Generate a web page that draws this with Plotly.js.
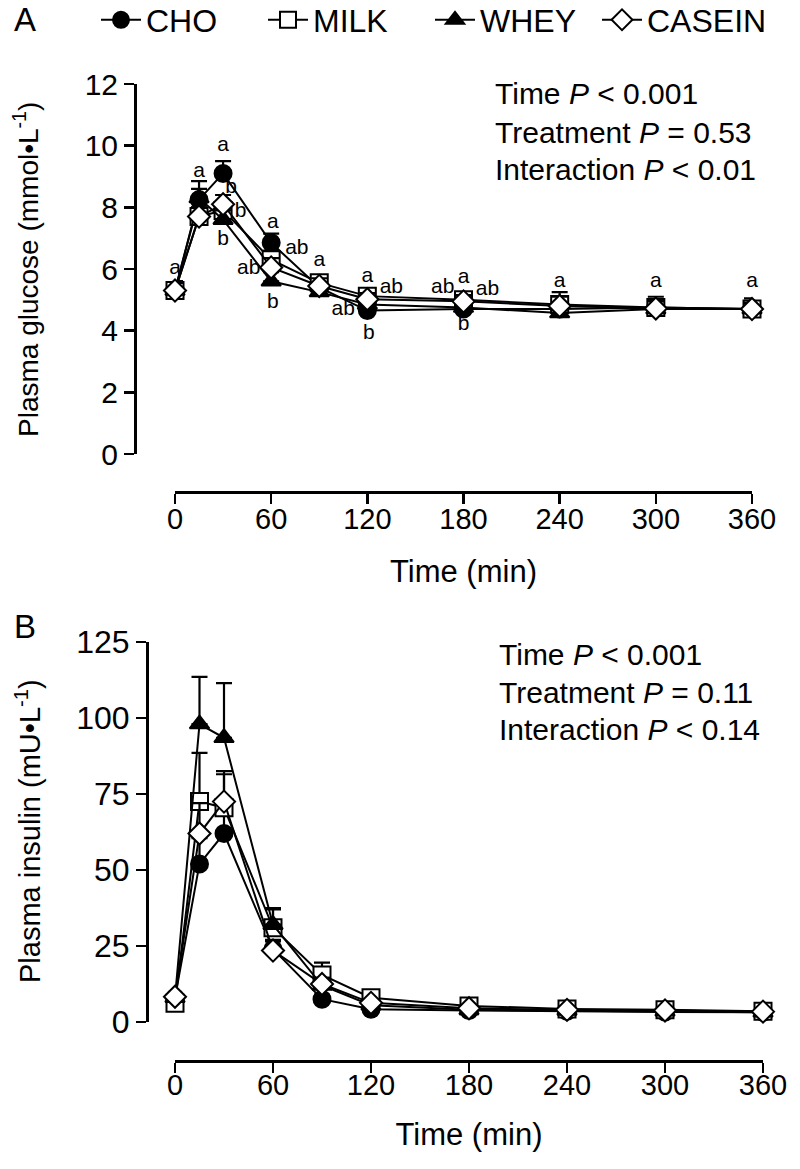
<!DOCTYPE html>
<html>
<head>
<meta charset="utf-8">
<script src="https://cdn.plot.ly/plotly-3.0.1.min.js"></script>
<style>html,body{margin:0;padding:0;background:#fff;}#chart{width:800px;height:1169px;}</style>
</head>
<body>
<div id="chart"></div>
<script>
// ---- data ----
const times = [0, 15, 30, 60, 90, 120, 180, 240, 300, 360];
const seriesNames = ["CHO", "MILK", "WHEY", "CASEIN"];

// Plasma glucose (mmol/L)
const gluCHO    = [5.3, 8.25, 9.1, 6.85, 5.4, 4.65, 4.7, 4.7, 4.75, 4.7];
const gluMILK   = [5.3, 7.7, 7.9, 6.3, 5.55, 5.12, 5.0, 4.85, 4.75, 4.7];
const gluWHEY   = [5.3, 8.3, 7.6, 5.6, 5.25, 4.85, 4.75, 4.57, 4.7, 4.7];
const gluCASEIN = [5.3, 7.7, 8.1, 6.05, 5.45, 5.02, 4.95, 4.8, 4.72, 4.7];
const gluCHOErr    = [0.3, 0.35, 0.4, 0.3, 0.25, 0.2, 0.2, 0.2, 0.2, 0.2];
const gluMILKErr   = [0.3, 0.3, 0.3, 0.3, 0.25, 0.25, 0.2, 0.4, 0.35, 0.35];
const gluWHEYErr   = [0.3, 0.55, 0.3, 0.3, 0.25, 0.2, 0.2, 0.3, 0.25, 0.2];
const gluCASEINErr = [0.25, 0.3, 0.3, 0.3, 0.25, 0.2, 0.2, 0.3, 0.25, 0.2];

// Plasma insulin (mU/L)
const insCHO    = [8, 52, 62, 24, 7.5, 4.2, 3.8, 3.5, 3.3, 3.2];
const insMILK   = [6.2, 72.5, 70.5, 31, 15.5, 8, 5.3, 4.3, 4, 3.5];
const insWHEY   = [8, 98, 93.5, 32, 12, 5.5, 4, 3.8, 3.5, 3.2];
const insCASEIN = [8.3, 62, 72.5, 23.5, 12.5, 6.3, 4.5, 4, 3.8, 3.4];
const insCHOErr    = [1, 8.5, 6, 3, 1.5, 0.8, 0.6, 0.5, 0.5, 0.5];
const insMILKErr   = [1, 16, 11, 6, 4, 1.5, 1, 0.8, 0.8, 0.7];
const insWHEYErr   = [1, 15.5, 18, 5.5, 2.5, 1, 0.8, 0.7, 0.7, 0.6];
const insCASEINErr = [1, 10, 10, 3, 2, 1, 0.8, 0.7, 0.6, 0.6];

// significance letters, panel A
const sigX = [0, 15, 30, 35, 41, 30, 61, 76, 46, 61, 90, 120, 105, 121, 135, 167, 180, 195, 180, 240, 300, 360];
const sigY = [6.0, 9.15, 10.0, 8.65, 7.85, 6.95, 7.5, 6.65, 6.0, 4.9, 6.26, 5.75, 4.67, 3.9, 5.4, 5.4, 5.72, 5.32, 4.2, 5.6, 5.6, 5.6];
const sigT = ["a", "a", "a", "b", "b", "b", "a", "ab", "ab", "b", "a", "a", "ab", "b", "ab", "ab", "a", "ab", "b", "a", "a", "a"];

const xTicks = [0, 60, 120, 180, 240, 300, 360];
const gluTicks = [0, 2, 4, 6, 8, 10, 12];
const insTicks = [0, 25, 50, 75, 100, 125];

// ---- styles ----
const W = 800, H = 1169;
const FONT = "Liberation Sans, Arial, Helvetica, sans-serif";
const markerStyles = [
  {symbol: "circle", color: "black", line: {color: "black", width: 2}},
  {symbol: "square", color: "white", line: {color: "black", width: 2}},
  {symbol: "triangle-up", color: "black", line: {color: "black", width: 2}},
  {symbol: "diamond", color: "white", line: {color: "black", width: 2}}
];
const px = v => v / W;
const py = v => (H - v) / H;

function mk(y, err, i, xa, ya, showLeg) {
  return {
    type: "scatter", mode: "lines+markers",
    x: times, y: y, name: seriesNames[i], legendgroup: seriesNames[i],
    showlegend: showLeg, xaxis: xa, yaxis: ya, cliponaxis: false,
    line: {color: "black", width: 2},
    marker: Object.assign({size: 17}, markerStyles[i]),
    error_y: {type: "data", array: err, arrayminus: err.map(() => 0), symmetric: false,
              color: "black", thickness: 2.2, width: 8}
  };
}

const glu = [gluCHO, gluMILK, gluWHEY, gluCASEIN];
const gluE = [gluCHOErr, gluMILKErr, gluWHEYErr, gluCASEINErr];
const ins = [insCHO, insMILK, insWHEY, insCASEIN];
const insE = [insCHOErr, insMILKErr, insWHEYErr, insCASEINErr];

const traces = [];
for (let i = 0; i < 4; i++) traces.push(mk(glu[i], gluE[i], i, "x", "y", true));
for (let i = 0; i < 4; i++) traces.push(mk(ins[i], insE[i], i, "x2", "y2", false));
traces.push({
  type: "scatter", mode: "text", x: sigX, y: sigY, text: sigT,
  textfont: {family: FONT, size: 21, color: "black"}, showlegend: false,
  xaxis: "x", yaxis: "y", cliponaxis: false, hoverinfo: "skip"
});

const axCommon = {
  showline: true, linecolor: "black", linewidth: 2.5,
  ticks: "outside", ticklen: 10, tickwidth: 2.5, tickcolor: "black",
  showgrid: false, zeroline: false, fixedrange: true, automargin: false
};

function ann(text, x, y, size, extra) {
  return Object.assign({text: text, x: px(x), y: py(y), xref: "paper", yref: "paper",
    xanchor: "center", yanchor: "middle", showarrow: false, font: {family: FONT, size: size}}, extra || {});
}

const layout = {
  width: W, height: H,
  margin: {l: 0, r: 0, t: 0, b: 0, autoexpand: false},
  paper_bgcolor: "white", plot_bgcolor: "rgba(0,0,0,0)",
  font: {family: FONT, color: "black", size: 30},
  showlegend: true,
  legend: {orientation: "h", xref: "container", yref: "container", x: px(96), y: py(20),
           xanchor: "left", yanchor: "middle",
           font: {family: FONT, size: 32}, itemwidth: 40, entrywidth: 112, entrywidthmode: "pixels",
           traceorder: "normal", bgcolor: "rgba(0,0,0,0)"},
  xaxis: Object.assign({}, axCommon, {
    domain: [px(175), px(752)], range: [0, 360], anchor: "free", position: py(492),
    tickvals: xTicks, tickfont: {family: FONT, size: 29}, ticklabelstandoff: -9,
    title: {text: "Time (min)", font: {family: FONT, size: 31}, standoff: 25}
  }),
  yaxis: Object.assign({}, axCommon, {
    domain: [py(454), py(84)], range: [0, 12], anchor: "free", position: px(135),
    tickvals: gluTicks, tickfont: {family: FONT, size: 30}
  }),
  xaxis2: Object.assign({}, axCommon, {
    domain: [px(175), px(763)], range: [0, 360], anchor: "free", position: py(1061),
    tickvals: xTicks, tickfont: {family: FONT, size: 29}, ticklabelstandoff: -12,
    title: {text: "Time (min)", font: {family: FONT, size: 31}, standoff: 22}
  }),
  yaxis2: Object.assign({}, axCommon, {
    domain: [py(1022), py(642)], range: [0, 125], anchor: "free", position: px(147),
    tickvals: insTicks, tickfont: {family: FONT, size: 32}
  }),
  annotations: [
    ann("A", 25, 20, 33),
    ann("B", 25, 626, 33),
    ann("Plasma glucose (mmol•L<sup>-1</sup>)", 26, 270, 28, {textangle: -90}),
    ann("Plasma insulin (mU•L<sup>-1</sup>)", 28, 831, 29, {textangle: -90}),
    ann("Time <i>P</i> < 0.001", 493, 94, 30, {xanchor: "left"}),
    ann("Treatment <i>P</i> = 0.53", 493, 132, 30, {xanchor: "left"}),
    ann("Interaction <i>P</i> < 0.01", 493, 169, 30, {xanchor: "left"}),
    ann("Time <i>P</i> < 0.001", 497, 654, 30, {xanchor: "left"}),
    ann("Treatment <i>P</i> = 0.11", 497, 692, 30, {xanchor: "left"}),
    ann("Interaction <i>P</i> < 0.14", 497, 729, 30, {xanchor: "left"})
  ]
};

Plotly.newPlot("chart", traces, layout, {staticPlot: true, displayModeBar: false});
</script>
</body>
</html>
